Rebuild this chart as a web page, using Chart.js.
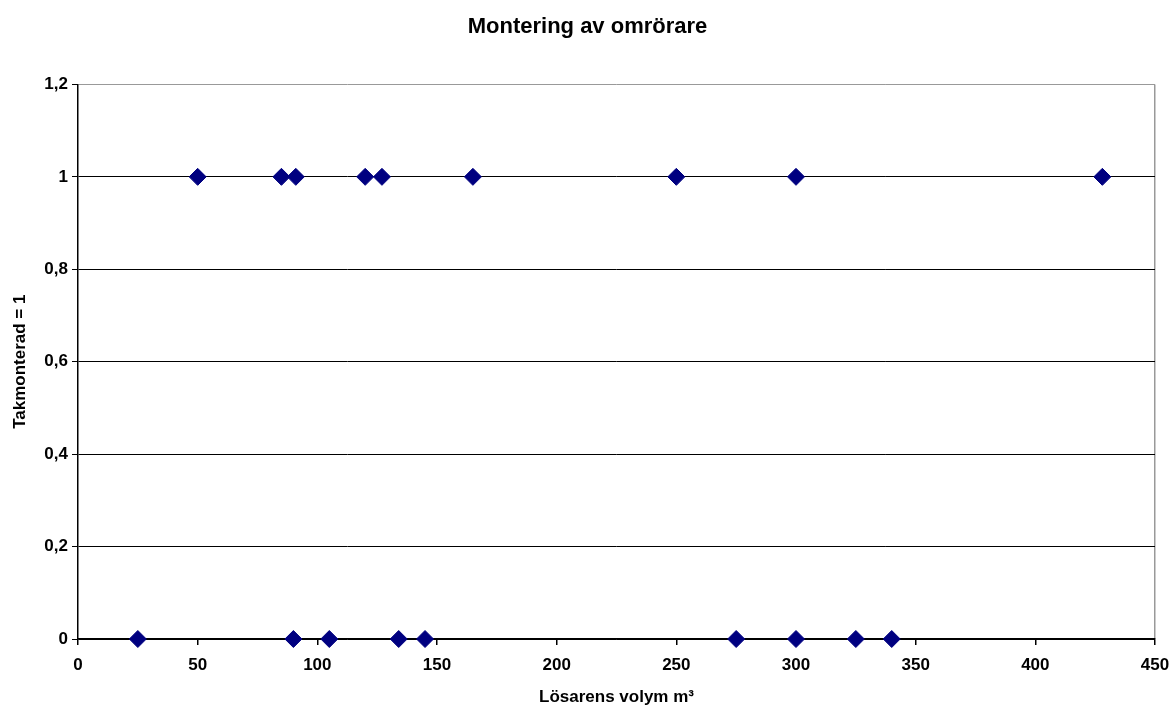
<!DOCTYPE html>
<html>
<head>
<meta charset="utf-8">
<script src="https://cdn.jsdelivr.net/npm/chart.js@4/dist/chart.umd.min.js"></script>
<style>
  body { margin: 0; background: #fff; }
  #wrap { width: 1173px; height: 708px; }
</style>
</head>
<body>
<div id="wrap"><canvas id="scatterChart"></canvas></div>
<script>
// Data
const mountedVolumes = [50, 85, 91, 120, 127, 165, 250, 300, 428];
const floorVolumes = [25, 90, 105, 134, 145, 275, 300, 325, 340];
const mountedValue = 1;
const floorValue = 0;
const xTicks = [0, 50, 100, 150, 200, 250, 300, 350, 400, 450];
const yTicks = [0, 0.2, 0.4, 0.6, 0.8, 1, 1.2];

const points = mountedVolumes.map(v => ({ x: v, y: mountedValue }))
    .concat(floorVolumes.map(v => ({ x: v, y: floorValue })));

const family = 'Arial, "Liberation Sans", sans-serif';
const font = { family: family, size: 17, weight: 'bold' };

const ctx = document.getElementById('scatterChart').getContext('2d');
new Chart(ctx, {
    type: 'scatter',
    data: {
        datasets: [{
            label: 'Takmonterad',
            data: points,
            pointStyle: 'rectRot',
            pointRadius: 8.5,
            pointHoverRadius: 8.5,
            backgroundColor: '#000080',
            borderColor: '#000080',
            borderWidth: 1,
            clip: false
        }]
    },
    options: {
        responsive: true,
        maintainAspectRatio: false,
        animation: false,
        layout: { padding: { left: 6, right: 4, top: 12, bottom: 0 } },
        plugins: {
            legend: { display: false },
            tooltip: { enabled: false },
            title: {
                display: true,
                text: 'Montering av omrörare',
                color: '#000',
                font: { family: family, size: 22, weight: 'bold' },
                padding: { top: 2, bottom: 44 }
            }
        },
        scales: {
            x: {
                type: 'linear',
                min: 0,
                max: 450,
                afterBuildTicks: axis => { axis.ticks = xTicks.map(v => ({ value: v })); },
                afterFit: axis => { axis.height = 69; axis.paddingRight = 18; },
                border: { color: '#000', width: 1.5 },
                grid: {
                    color: c => c.tick && c.tick.value === 450 ? '#999' : 'rgba(0,0,0,0)',
                    tickColor: '#000',
                    tickLength: 6,
                    lineWidth: 1.5
                },
                ticks: { color: '#000', font: font, padding: 10, maxRotation: 0 },
                title: {
                    display: true,
                    text: 'Lösarens volym m³',
                    color: '#000',
                    font: font,
                    padding: { top: 8, bottom: 0 }
                }
            },
            y: {
                min: 0,
                max: 1.2,
                afterBuildTicks: axis => { axis.ticks = yTicks.map(v => ({ value: v })); },
                afterFit: axis => { axis.width = 72; },
                border: { color: '#000', width: 1.5 },
                grid: {
                    color: c => c.tick && c.tick.value === 1.2 ? '#999' : '#000',
                    tickColor: '#000',
                    tickLength: 6,
                    lineWidth: 1
                },
                ticks: {
                    color: '#000',
                    font: font,
                    padding: 4,
                    callback: v => String(Math.round(v * 10) / 10).replace('.', ',')
                },
                title: {
                    display: true,
                    text: 'Takmonterad = 1',
                    color: '#000',
                    font: font,
                    padding: { bottom: 8 }
                }
            }
        }
    }
});
</script>
</body>
</html>
